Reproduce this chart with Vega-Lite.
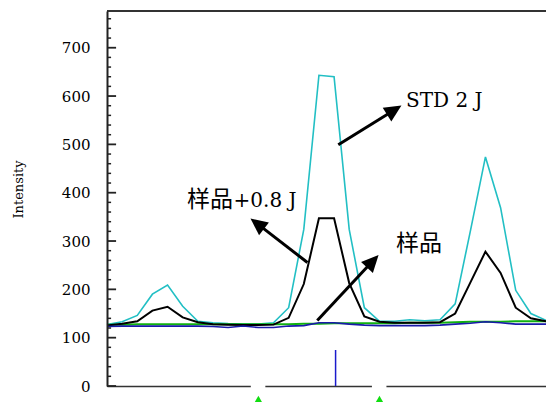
{
  "$schema": "https://vega.github.io/schema/vega-lite/v6.json",
  "width": 439,
  "height": 375,
  "autosize": {"type": "none"},
  "padding": {"left": 107, "top": 11, "right": 0, "bottom": 16},
  "background": "white",
  "config": {"view": {"stroke": null}},
  "datasets": {
    "traces": [
      {"idx": 0, "std": 127, "spiked": 125, "green": 127, "blue": 123},
      {"idx": 1, "std": 133, "spiked": 129, "green": 127, "blue": 124},
      {"idx": 2, "std": 146, "spiked": 134, "green": 128, "blue": 124},
      {"idx": 3, "std": 190, "spiked": 156, "green": 128, "blue": 124},
      {"idx": 4, "std": 209, "spiked": 164, "green": 128, "blue": 124},
      {"idx": 5, "std": 165, "spiked": 142, "green": 128, "blue": 124},
      {"idx": 6, "std": 134, "spiked": 132, "green": 128, "blue": 124},
      {"idx": 7, "std": 131, "spiked": 128, "green": 128, "blue": 123},
      {"idx": 8, "std": 129, "spiked": 127, "green": 128, "blue": 121},
      {"idx": 9, "std": 128, "spiked": 126, "green": 128, "blue": 124},
      {"idx": 10, "std": 128, "spiked": 126, "green": 128, "blue": 121},
      {"idx": 11, "std": 131, "spiked": 127, "green": 128, "blue": 121},
      {"idx": 12, "std": 162, "spiked": 141, "green": 128, "blue": 124},
      {"idx": 13, "std": 324, "spiked": 211, "green": 129, "blue": 125},
      {"idx": 14, "std": 643, "spiked": 347, "green": 129, "blue": 131},
      {"idx": 15, "std": 640, "spiked": 347, "green": 130, "blue": 131},
      {"idx": 16, "std": 324, "spiked": 213, "green": 130, "blue": 128},
      {"idx": 17, "std": 162, "spiked": 144, "green": 130, "blue": 126},
      {"idx": 18, "std": 134, "spiked": 133, "green": 130, "blue": 125},
      {"idx": 19, "std": 134, "spiked": 131, "green": 130, "blue": 125},
      {"idx": 20, "std": 137, "spiked": 131, "green": 131, "blue": 125},
      {"idx": 21, "std": 135, "spiked": 131, "green": 131, "blue": 125},
      {"idx": 22, "std": 137, "spiked": 132, "green": 131, "blue": 126},
      {"idx": 23, "std": 170, "spiked": 150, "green": 132, "blue": 128},
      {"idx": 24, "std": 320, "spiked": 214, "green": 133, "blue": 130},
      {"idx": 25, "std": 474, "spiked": 278, "green": 133, "blue": 133},
      {"idx": 26, "std": 369, "spiked": 234, "green": 133, "blue": 131},
      {"idx": 27, "std": 198, "spiked": 162, "green": 134, "blue": 128},
      {"idx": 28, "std": 150, "spiked": 140, "green": 134, "blue": 128},
      {"idx": 29, "std": 136, "spiked": 134, "green": 134, "blue": 128}
    ],
    "majorTicks": [
      {"v": 0}, {"v": 100}, {"v": 200}, {"v": 300}, {"v": 400}, {"v": 500}, {"v": 600}, {"v": 700}
    ],
    "minorTicks": [
      {"v": 20}, {"v": 40}, {"v": 60}, {"v": 80}, {"v": 120}, {"v": 140}, {"v": 160}, {"v": 180},
      {"v": 220}, {"v": 240}, {"v": 260}, {"v": 280}, {"v": 320}, {"v": 340}, {"v": 360}, {"v": 380},
      {"v": 420}, {"v": 440}, {"v": 460}, {"v": 480}, {"v": 520}, {"v": 540}, {"v": 560}, {"v": 580},
      {"v": 620}, {"v": 640}, {"v": 660}, {"v": 680}, {"v": 720}, {"v": 740}, {"v": 760}
    ],
    "frame": [
      {"top": 776}
    ],
    "arrows": [
      {"x": 15.28, "y": 499.4, "x2": 19.01, "y2": 571.7, "tx": 19.45, "ty": 580.4, "angle": 58},
      {"x": 13.24, "y": 255.6, "x2": 9.9, "y2": 336.5, "tx": 9.48, "ty": 346.6, "angle": 307.6},
      {"x": 13.89, "y": 135.5, "x2": 17.57, "y2": 259.1, "tx": 17.94, "ty": 271.1, "angle": 43}
    ],
    "latin": [
      {"label": "STD 2 J", "x": 19.75, "y": 576.7},
      {"label": "+0.8 J", "x": 8.36, "y": 371.0}
    ],
    "cjk": [
      {"label": "样品", "x": 5.28, "y": 371.0},
      {"label": "样品", "x": 19.09, "y": 279.4}
    ],
    "flags": [
      {"x": 10, "gx": 9.5, "gx2": 10.46, "y": -31},
      {"x": 18, "gx": 17.5, "gx2": 18.46, "y": -31}
    ],
    "stick": [
      {"x": 15.1, "y": 0, "y2": 74.5}
    ]
  },
  "layer": [
    {
      "data": {"name": "traces"},
      "mark": {"type": "line", "color": "#22bfc4", "strokeWidth": 1.6},
      "encoding": {
        "x": {
          "field": "idx", "type": "quantitative",
          "scale": {"domain": [0, 29], "nice": false, "zero": false},
          "axis": {"ticks": false, "labels": false, "title": null, "grid": false, "domainColor": "#333", "domainWidth": 1.5, "zindex": 0}
        },
        "y": {
          "field": "std", "type": "quantitative",
          "scale": {"domain": [0, 776], "nice": false},
          "axis": {
            "orient": "left",
            "values": [0, 100, 200, 300, 400, 500, 600, 700],
            "labelOverlap": false,
            "labelFont": "DejaVu Serif",
            "labelFontSize": 15,
            "labelColor": "black",
            "labelPadding": 17,
            "ticks": false,
            "domainColor": "#222",
            "domainWidth": 2,
            "grid": false,
            "title": "Intensity",
            "titleFont": "DejaVu Serif",
            "titleFontSize": 13,
            "titleFontWeight": "normal",
            "titleColor": "black",
            "titleAngle": -90,
            "titleAlign": "center",
            "titleBaseline": "alphabetic",
            "titleX": -85,
            "titleY": 178,
            "zindex": 1
          }
        }
      }
    },
    {
      "data": {"name": "traces"},
      "mark": {"type": "line", "color": "#10b010", "strokeWidth": 2},
      "encoding": {
        "x": {"field": "idx", "type": "quantitative"},
        "y": {"field": "green", "type": "quantitative"}
      }
    },
    {
      "data": {"name": "traces"},
      "mark": {"type": "line", "color": "#000000", "strokeWidth": 2},
      "encoding": {
        "x": {"field": "idx", "type": "quantitative"},
        "y": {"field": "spiked", "type": "quantitative"}
      }
    },
    {
      "data": {"name": "traces"},
      "mark": {"type": "line", "color": "#1a1aaa", "strokeWidth": 1.6},
      "encoding": {
        "x": {"field": "idx", "type": "quantitative"},
        "y": {"field": "blue", "type": "quantitative"}
      }
    },
    {
      "data": {"name": "majorTicks"},
      "mark": {"type": "rule", "color": "#222222", "strokeWidth": 1.8},
      "encoding": {
        "x": {"datum": 0, "type": "quantitative"},
        "x2": {"datum": 0.6},
        "y": {"field": "v", "type": "quantitative"},
        "y2": {"field": "v"}
      }
    },
    {
      "data": {"name": "minorTicks"},
      "mark": {"type": "rule", "color": "#222222", "strokeWidth": 1.5},
      "encoding": {
        "x": {"datum": 0, "type": "quantitative"},
        "x2": {"datum": 0.27},
        "y": {"field": "v", "type": "quantitative"},
        "y2": {"field": "v"}
      }
    },
    {
      "data": {"name": "frame"},
      "mark": {"type": "rule", "color": "#333333", "strokeWidth": 2},
      "encoding": {
        "x": {"datum": 0, "type": "quantitative"},
        "x2": {"datum": 29},
        "y": {"field": "top", "type": "quantitative"},
        "y2": {"field": "top"}
      }
    },
    {
      "data": {"name": "stick"},
      "mark": {"type": "rule", "color": "#1a1acc", "strokeWidth": 1.5},
      "encoding": {
        "x": {"field": "x", "type": "quantitative"},
        "y": {"field": "y", "type": "quantitative"},
        "y2": {"field": "y2"}
      }
    },
    {
      "data": {"name": "flags"},
      "mark": {"type": "rule", "color": "white", "strokeWidth": 4, "clip": false},
      "encoding": {
        "x": {"field": "gx", "type": "quantitative"},
        "x2": {"field": "gx2"},
        "y": {"datum": 0, "type": "quantitative"}
      }
    },
    {
      "data": {"name": "flags"},
      "mark": {"type": "point", "shape": "triangle-up", "filled": true, "color": "#11dd11", "opacity": 1, "size": 144, "clip": false},
      "encoding": {
        "x": {"field": "x", "type": "quantitative"},
        "y": {"field": "y", "type": "quantitative"}
      }
    },
    {
      "data": {"name": "arrows"},
      "mark": {"type": "rule", "color": "black", "strokeWidth": 3, "strokeCap": "butt"},
      "encoding": {
        "x": {"field": "x", "type": "quantitative"},
        "y": {"field": "y", "type": "quantitative"},
        "x2": {"field": "x2"},
        "y2": {"field": "y2"}
      }
    },
    {
      "data": {"name": "arrows"},
      "mark": {"type": "point", "shape": "M0,0L0.95,2L-0.95,2Z", "filled": true, "color": "black", "opacity": 1, "size": 289, "strokeWidth": 0},
      "encoding": {
        "x": {"field": "tx", "type": "quantitative"},
        "y": {"field": "ty", "type": "quantitative"},
        "angle": {"field": "angle", "type": "quantitative", "scale": null}
      }
    },
    {
      "data": {"name": "latin"},
      "mark": {"type": "text", "align": "left", "baseline": "alphabetic", "font": "DejaVu Serif", "fontSize": 20, "color": "black"},
      "encoding": {
        "x": {"field": "x", "type": "quantitative"},
        "y": {"field": "y", "type": "quantitative"},
        "text": {"field": "label"}
      }
    },
    {
      "data": {"name": "cjk"},
      "mark": {"type": "text", "align": "left", "baseline": "alphabetic", "font": "Noto Sans CJK SC", "fontSize": 23, "color": "black"},
      "encoding": {
        "x": {"field": "x", "type": "quantitative"},
        "y": {"field": "y", "type": "quantitative"},
        "text": {"field": "label"}
      }
    }
  ]
}
